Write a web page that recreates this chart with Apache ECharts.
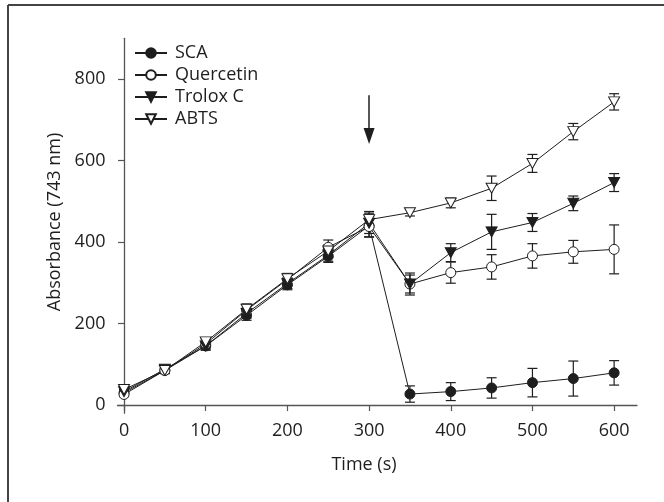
<!DOCTYPE html>
<html>
<head>
<meta charset="utf-8">
<script src="https://cdn.jsdelivr.net/npm/echarts@6/dist/echarts.min.js"></script>
<style>html,body{margin:0;padding:0;background:#fff;}#c{width:664px;height:502px;}</style>
</head>
<body>
<div id="c"></div>
<script>
var times = [0, 50, 100, 150, 200, 250, 300, 350, 400, 450, 500, 550, 600];
var xTicks = [0, 100, 200, 300, 400, 500, 600];
var yTicks = [0, 200, 400, 600, 800];
var scaValues = [30, 85, 145, 220, 295, 365, 440, 27, 33, 42, 55, 65, 79];
var scaErrors = [5, 8, 10, 12, 12, 15, 28, 20, 22, 25, 35, 43, 30];
var quercetinValues = [26, 85, 150, 233, 308, 387, 438, 297, 325, 339, 366, 376, 382];
var quercetinErrors = [5, 6, 10, 15, 15, 18, 25, 27, 26, 30, 30, 28, 60];
var troloxValues = [33, 88, 145, 225, 298, 368, 446, 297, 374, 425, 448, 495, 546];
var troloxErrors = [5, 8, 10, 12, 12, 15, 25, 22, 22, 43, 22, 18, 22];
var abtsValues = [38, 85, 155, 235, 310, 378, 455, 472, 496, 532, 593, 671, 744];
var abtsErrors = [5, 6, 8, 12, 12, 15, 20, 8, 12, 30, 22, 20, 20];
var arrowTime = 300;
var arrowFrom = 760;
var arrowTo = 660;

var FONT = 'Open Sans';
var FS = 18;
var INK = '#1e1e1e';
var AX = '#555';
var downTri = 'path://M0,0 L10,0 L5,9 Z';

function pairs(vals) { return times.map(function (t, i) { return [t, vals[i]]; }); }
function errData(vals, errs) { return times.map(function (t, i) { return [t, vals[i] - errs[i], vals[i] + errs[i]]; }); }

function errSeries(name, vals, errs) {
  return {
    type: 'custom', name: name + ' err', z: 1,
    data: errData(vals, errs),
    renderItem: function (params, api) {
      var x = api.value(0);
      var lo = api.coord([x, api.value(1)]);
      var hi = api.coord([x, api.value(2)]);
      var w = 5;
      var st = { stroke: INK, lineWidth: 1.2 };
      return {
        type: 'group',
        children: [
          { type: 'line', shape: { x1: lo[0], y1: lo[1], x2: hi[0], y2: hi[1] }, style: st },
          { type: 'line', shape: { x1: lo[0] - w, y1: lo[1], x2: lo[0] + w, y2: lo[1] }, style: st },
          { type: 'line', shape: { x1: hi[0] - w, y1: hi[1], x2: hi[0] + w, y2: hi[1] }, style: st }
        ]
      };
    },
    silent: true
  };
}

function lineSeries(name, vals, symbol, size, fill) {
  return {
    type: 'line', name: name, z: 3,
    data: pairs(vals),
    symbol: symbol, symbolSize: size,
    showAllSymbol: true,
    lineStyle: { color: INK, width: 1 },
    itemStyle: { color: fill, borderColor: INK, borderWidth: 1 },
    emphasis: { disabled: true },
    animation: false
  };
}

var chart = echarts.init(document.getElementById('c'), null, { renderer: 'canvas' });
var sca = lineSeries('SCA', scaValues, 'circle', 10, INK);
sca.markLine = {
  silent: true, animation: false,
  symbol: ['none', 'triangle'], symbolSize: [11, 16],
  label: { show: false },
  lineStyle: { color: INK, width: 1.5, type: 'solid' },
  data: [[{ coord: [arrowTime, arrowFrom] }, { coord: [arrowTime, arrowTo] }]]
};

chart.setOption({
  animation: false,
  backgroundColor: '#fff',
  textStyle: { fontFamily: FONT },
  grid: { left: 117.5, right: 27, top: 38.3, bottom: 88.8, containLabel: false },
  legend: {
    orient: 'vertical', left: 129, top: 39,
    itemWidth: 32, itemHeight: 12, itemGap: 4,
    data: ['SCA', 'Quercetin', 'Trolox C', 'ABTS'],
    textStyle: { fontFamily: FONT, fontSize: FS, color: INK, padding: [0, 0, 0, 3] },
    selectedMode: false
  },
  xAxis: {
    type: 'value', min: -8, max: 628,
    axisLine: { onZero: true, lineStyle: { color: AX, width: 1.3 } },
    axisTick: { show: true, length: 6, inside: false, customValues: xTicks, lineStyle: { color: AX, width: 1.2 } },
    axisLabel: { customValues: xTicks, margin: 9, fontSize: FS, color: INK, fontFamily: FONT },
    splitLine: { show: false }
  },
  yAxis: {
    type: 'value', min: -20, max: 900,
    axisLine: { show: true, onZero: true, lineStyle: { color: AX, width: 1.3 } },
    axisTick: { show: true, length: 6, inside: false, customValues: yTicks, lineStyle: { color: AX, width: 1.2 } },
    axisLabel: { customValues: yTicks, margin: 12, fontSize: FS, color: INK, fontFamily: FONT },
    splitLine: { show: false }
  },
  graphic: [
    { type: 'line', shape: { x1: 8, y1: 5, x2: 664, y2: 5 }, style: { stroke: '#444', lineWidth: 2 } },
    { type: 'line', shape: { x1: 8, y1: 5, x2: 8, y2: 502 }, style: { stroke: '#444', lineWidth: 2 } },
    { type: 'text', x: 55, y: 222, rotation: Math.PI / 2, style: { text: 'Absorbance (743 nm)', font: FS + 'px "Open Sans"', fill: INK, align: 'center', verticalAlign: 'middle' } },
    { type: 'text', x: 364, y: 465, style: { text: 'Time (s)', font: FS + 'px "Open Sans"', fill: INK, align: 'center', verticalAlign: 'middle' } }
  ],
  series: [
    errSeries('SCA', scaValues, scaErrors),
    errSeries('Quercetin', quercetinValues, quercetinErrors),
    errSeries('Trolox C', troloxValues, troloxErrors),
    errSeries('ABTS', abtsValues, abtsErrors),
    sca,
    lineSeries('Quercetin', quercetinValues, 'circle', 10, '#fff'),
    lineSeries('Trolox C', troloxValues, downTri, [11, 10], INK),
    lineSeries('ABTS', abtsValues, downTri, [11, 10], '#fff')
  ]
});
</script>
</body>
</html>
